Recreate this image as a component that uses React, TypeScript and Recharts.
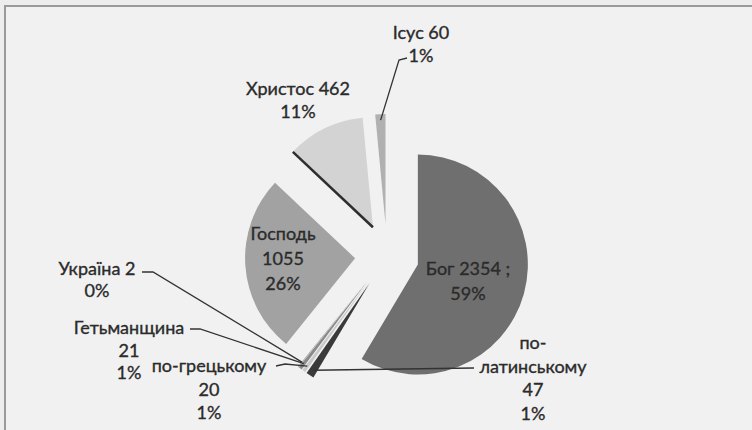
import React from 'react';
import { PieChart, Pie, Cell, Sector } from 'recharts';

// word counts as printed on the chart (clockwise from 12 o'clock)
const names = ['Бог', 'по-латинському', 'по-грецькому', 'Гетьманщина', 'Україна', 'Господь', 'Христос', 'Ісус'];
const counts = [2354, 47, 20, 21, 2, 1055, 462, 60];
const percents = ['59%', '1%', '1%', '1%', '0%', '26%', '11%', '1%'];

const data = names.map((name, i) => ({ name, value: counts[i], pct: percents[i] }));

const colors = ['#6f6f6f', '#3a3a3a', '#c9c9c9', '#8a8a8a', '#4e4e4e', '#a2a2a2', '#d3d3d3', '#b0b0b0'];

const EXPLODE = 32;
const RAD = Math.PI / 180;
const FONT = 'Lato, "Open Sans", sans-serif';

// label placement (Excel labels were dragged by hand)
// x, y: centre of the first text line; lead: where the leader line leaves the label
const labelLayout: Record<number, { x: number; y: number; lh: number; wrap: string; lead?: [number, number][] }> = {
  0: { x: 468, y: 268, lh: 25, wrap: 'inlineSemi' },
  1: { x: 533, y: 342, lh: 23.5, wrap: 'hyphen', lead: [[474, 368]] },
  2: { x: 209, y: 365, lh: 23.5, wrap: 'stack', lead: [[276, 366], [285, 364]] },
  3: { x: 129, y: 327, lh: 22.5, wrap: 'stack', lead: [[190, 329], [200, 329]] },
  4: { x: 97, y: 268, lh: 22, wrap: 'inline2', lead: [[142, 272], [153, 272]] },
  5: { x: 283, y: 233, lh: 25, wrap: 'stack' },
  6: { x: 298, y: 88, lh: 23, wrap: 'inline' },
  7: { x: 421, y: 32, lh: 23, wrap: 'inline', lead: [[407, 58], [399, 60]] },
};

function labelLines(i: number) {
  const d = data[i];
  const wrap = labelLayout[i].wrap;
  if (wrap === 'inlineSemi') return [`${d.name} ${d.value} ;`, d.pct];
  if (wrap === 'inline') return [`${d.name} ${d.value}`, d.pct];
  if (wrap === 'inline2') return [`${d.name}  ${d.value}`, d.pct];
  if (wrap === 'hyphen') {
    const [a, b] = d.name.split('-');
    return [`${a}-`, b, String(d.value), d.pct];
  }
  return [d.name, String(d.value), d.pct];
}

function polar(cx: number, cy: number, r: number, angle: number) {
  return { x: cx + r * Math.cos(-angle * RAD), y: cy + r * Math.sin(-angle * RAD) };
}

const ExplodedSector = (props: any) => {
  const { cx, cy, midAngle, startAngle, outerRadius, fill, payload } = props;
  const off = polar(0, 0, EXPLODE, midAngle);
  const ox = cx + off.x;
  const oy = cy + off.y;
  const name = payload?.name ?? props.name;
  const edge = polar(ox, oy, outerRadius, startAngle);
  return (
    <g>
      <Sector {...props} cx={ox} cy={oy} fill={fill} stroke="none" />
      {name === 'Христос' && (
        <line x1={ox} y1={oy} x2={edge.x} y2={edge.y} stroke="#2e2e2e" strokeWidth={2.5} />
      )}
    </g>
  );
};

const renderLabel = (props: any) => {
  const { cx, cy, midAngle, outerRadius, index } = props;
  const lay = labelLayout[index];
  if (!lay) return null;
  const lines = labelLines(index);
  const tip = polar(cx, cy, outerRadius + EXPLODE - 6, midAngle);
  return (
    <g key={`lbl-${index}`}>
      {lay.lead && (
        <polyline
          points={[...lay.lead, [tip.x, tip.y]].map((p) => p.join(',')).join(' ')}
          fill="none"
          stroke="#333"
          strokeWidth={1.3}
        />
      )}
      {lines.map((t, k) => (
        <text
          key={k}
          x={lay.x}
          y={lay.y + k * lay.lh}
          textAnchor="middle"
          dominantBaseline="central"
          fontFamily={FONT}
          fontSize={18}
          fontWeight={400}
          fill="#2b2b2b"
          stroke="#2b2b2b"
          strokeWidth={0.35}
        >
          {t}
        </text>
      ))}
    </g>
  );
};

export default function App() {
  return (
    <div
      style={{
        position: 'absolute',
        left: 0,
        top: 0,
        width: 752,
        height: 430,
        background: '#ededed',
        overflow: 'hidden',
      }}
    >
      {/* chart frame runs off the right and bottom of the scan */}
      <div
        style={{
          position: 'absolute',
          left: 4,
          top: 5,
          width: 770,
          height: 450,
          border: '2px solid #9a9a9a',
          background: '#f1f1f1',
        }}
      />
      <div style={{ position: 'absolute', left: 0, top: 0 }}>
        <PieChart width={752} height={430}>
          <Pie
            data={data}
            dataKey="value"
            nameKey="name"
            cx={382}
            cy={251}
            outerRadius={110}
            startAngle={90}
            endAngle={-270}
            stroke="none"
            isAnimationActive={false}
            shape={ExplodedSector}
            label={renderLabel}
            labelLine={false}
          >
            {data.map((d, i) => (
              <Cell key={d.name} fill={colors[i]} />
            ))}
          </Pie>
        </PieChart>
      </div>
    </div>
  );
}
